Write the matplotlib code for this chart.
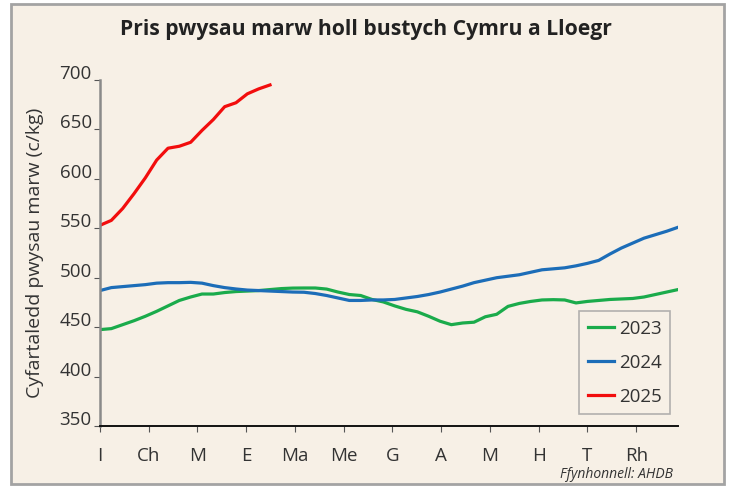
import matplotlib
matplotlib.use('Agg')
import matplotlib.pyplot as plt
from matplotlib.patches import Rectangle
from matplotlib.transforms import ScaledTranslation

plt.rcParams['font.family'] = ['Open Sans', 'DejaVu Sans']

months = ['I', 'Ch', 'M', 'E', 'Ma', 'Me', 'G', 'A', 'M', 'H', 'T', 'Rh']

y2023 = [447.5, 448.5, 452.5, 456.5, 461, 466, 471.5, 477, 480.5, 483.5, 483.5, 485,
         486, 486.5, 487, 488, 489, 489.5, 489.6, 489.6, 488.5, 485.5, 483, 482,
         478, 475.5, 471.5, 468, 465.5, 461, 456, 452.5, 454.2, 455, 460.5, 463,
         471, 474, 476, 477.5, 477.8, 477.5, 474.5, 476, 477, 478, 478.5, 479,
         480.5, 483, 485.5, 488]
y2024 = [487, 490, 491, 492, 493, 494.5, 495, 495, 495.3, 494.5, 492, 490,
         488.6, 487.5, 487, 486.5, 486, 485.5, 485.3, 484, 482, 479.5, 477, 477,
         477.5, 477.5, 478, 479.5, 481, 483, 485.5, 488.5, 491.5, 495, 497.5, 500,
         501.5, 503, 505.5, 508, 509, 510, 512, 514.5, 517.5, 524, 530, 535,
         540, 543.5, 547, 551]
y2025 = [553, 558, 570, 585, 601, 619, 631, 633, 637, 649, 660, 673,
         677, 686, 691, 695]

bg = '#f7f0e6'
fig = plt.figure(figsize=(7.29, 4.88), dpi=100, facecolor='white')
fig.patches.append(Rectangle((11/729, 4/488), 713/729, 480/488, transform=fig.transFigure,
                             facecolor=bg, edgecolor='#a3a3a3', linewidth=2, zorder=-10))
ax = fig.add_axes([100/729, 1-426/488, 578/729, 346/488])
ax.set_facecolor(bg)

ax.plot(range(1, len(y2023)+1), y2023, color='#1aab4b', lw=2.3, label='2023', solid_joinstyle='round')
ax.plot(range(1, len(y2024)+1), y2024, color='#1c6db8', lw=2.3, label='2024', solid_joinstyle='round')
ax.plot(range(1, len(y2025)+1), y2025, color='#f20d0d', lw=2.3, label='2025', solid_joinstyle='round')

ax.set_xlim(1, 52)
ax.set_ylim(350, 700)
ax.set_yticks(range(350, 701, 50))
ax.set_xticks([1 + i*51/12*1.012 for i in range(12)])
ax.set_xticklabels(months)

for s in ['top', 'right']:
    ax.spines[s].set_visible(False)
ax.spines['left'].set_color('#8a8a8a')
ax.spines['left'].set_linewidth(1.8)
ax.spines['bottom'].set_color('#111111')
ax.spines['bottom'].set_linewidth(1.4)
ax.tick_params(axis='y', length=4, color='#555555', labelsize=13.5, labelcolor='#333333', pad=2)
ax.tick_params(axis='x', length=4, color='#555555', labelsize=13.5, labelcolor='#333333', pad=11)
for lab in ax.get_yticklabels():
    lab.set_transform(lab.get_transform() + ScaledTranslation(0, 8/100, fig.dpi_scale_trans))

ax.set_ylabel('Cyfartaledd pwysau marw (c/kg)', fontsize=14, color='#333333', labelpad=11)

fig.text(366/729, 1-30/488, 'Pris pwysau marw holl bustych Cymru a Lloegr', ha='center', va='center',
         fontsize=15.2, fontweight='bold', color='#222222')
fig.text(673/729, 1-474/488, 'Ffynhonnell: AHDB', ha='right', va='center',
         fontsize=10, style='italic', color='#333333')

leg = ax.legend(loc='lower right', bbox_to_anchor=(670/729, 1-414/488), bbox_transform=fig.transFigure,
                fontsize=13.5, handlelength=1.4, handletextpad=0.25, labelspacing=0.85,
                fancybox=False, frameon=True, borderpad=0.45, borderaxespad=0)
leg.get_frame().set_edgecolor('#a0a0a0')
leg.get_frame().set_facecolor(bg)
leg.get_frame().set_linewidth(1.2)
for t in leg.get_texts():
    t.set_color('#333333')

fig.savefig('out.png', dpi=100, facecolor='white')
